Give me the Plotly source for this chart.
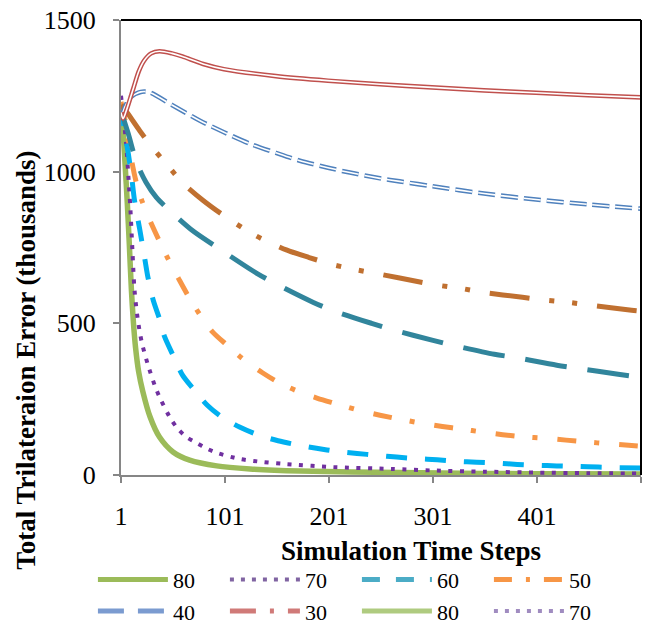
import plotly.graph_objects as go

# ---------------- data (thousands) ----------------
green80_x = [1, 3, 5, 7, 9, 11, 13, 15, 18, 22, 29, 38, 51, 67, 93, 125, 173, 269, 350, 430, 501]
green80_y = [1200, 1130, 1020, 900, 760, 610, 500, 420, 340, 275, 191, 125, 76, 49, 30, 20, 13, 8, 5, 4, 3]

purple70_x = [1, 4, 6, 8, 10, 12, 14, 17, 21, 27, 34, 39, 49, 56, 64, 74, 84, 94, 115, 137, 160, 205, 261, 300, 350, 400, 450, 501]
purple70_y = [1250, 1160, 1090, 990, 880, 740, 610, 516, 437, 362, 290, 250, 184, 151, 125, 105, 86, 72, 53, 43, 36, 26, 20, 15, 11, 8, 6, 5]

cyan60_x = [1, 5, 8, 11, 14, 19, 24, 27, 32, 38, 43, 51, 60, 70, 84, 98, 115, 133, 152, 171, 189, 209, 228, 247, 266, 286, 305, 324, 343, 363, 382, 401, 420, 440, 460, 480, 501]
cyan60_y = [1220, 1120, 1060, 990, 905, 810, 710, 650, 576, 515, 455, 395, 330, 286, 230, 191, 158, 132, 113, 99, 88, 78, 71, 65, 59, 54, 50, 45, 42, 39, 35, 32, 30, 28, 26, 24, 23]

orange50_x = [1, 6, 11, 16, 21, 30, 46, 56, 65, 76, 89, 103, 118, 137, 152, 171, 190, 209, 229, 250, 288, 310, 329, 348, 368, 387, 409, 429, 449, 469, 489, 501]
orange50_y = [1230, 1150, 1040, 960, 905, 830, 714, 650, 594, 533, 472, 428, 383, 337, 306, 276, 253, 234, 214, 197, 172, 160, 151, 142, 133, 126, 121, 115, 109, 103, 98, 95]

teal40_x = [1, 8, 16, 25, 35, 50, 70, 98, 132, 149, 186, 204, 242, 263, 301, 320, 360, 379, 420, 440, 479, 501]
teal40_y = [1200, 1125, 1030, 965, 915, 865, 805, 740, 664, 632, 569, 543, 500, 478, 444, 428, 398, 388, 362, 352, 332, 322]

brown30_x = [1, 7, 19, 31, 46, 60, 80, 100, 130, 160, 182, 204, 225, 250, 286, 307, 328, 349, 387, 410, 432, 454, 492, 501]
brown30_y = [1220, 1194, 1135, 1080, 1020, 964, 905, 855, 790, 742, 717, 694, 678, 662, 638, 625, 615, 602, 586, 576, 569, 559, 543, 540]

blue_x = [1, 5, 10, 20, 28, 50, 77, 100, 125, 150, 173, 200, 221, 250, 269, 300, 350, 400, 450, 501]
blue_y = [1175, 1215, 1245, 1263, 1262, 1220, 1168, 1130, 1092, 1062, 1036, 1013, 997, 978, 968, 952, 928, 908, 892, 878]

red_x = [1, 3, 6, 13, 18, 23, 30, 38, 50, 60, 80, 100, 150, 200, 250, 300, 350, 400, 450, 501]
red_y = [1195, 1175, 1200, 1276, 1330, 1365, 1390, 1397, 1390, 1380, 1355, 1338, 1315, 1300, 1288, 1278, 1268, 1260, 1252, 1245]

legend_names = ["80", "70", "60", "50", "40", "30", "80", "70"]

x_tickvals = [1, 101, 201, 301, 401, 501]
x_ticktext = ["1", "101", "201", "301", "401", ""]
y_tickvals = [0, 500, 1000, 1500]

FONT = "Liberation Serif, Times New Roman, serif"

fig = go.Figure()

def add_line(x, y, color, width, dash="solid", name=""):
    fig.add_trace(go.Scatter(x=x, y=y, mode="lines", name=name, showlegend=False,
                             line=dict(color=color, width=width, dash=dash,
                                       shape="spline", smoothing=0.8),
                             hoverinfo="x+y"))

# plotted series
add_line(green80_x, green80_y, "#9BBB59", 5.5, "solid", "80")
add_line(purple70_x, purple70_y, "#7030A0", 4, "4px,7.5px", "70")
add_line(cyan60_x, cyan60_y, "#00B0F0", 5, "21px,18px", "60")
add_line(orange50_x, orange50_y, "#F79646", 5, "19px,18px,5px,20px", "50")
add_line(teal40_x, teal40_y, "#31859C", 5, "42px,21px", "40")
add_line(brown30_x, brown30_y, "#C07030", 5, "40px,20px,5px,18px,5px,20px", "30")
# double (compound) lines: coloured wide line with a thin white core
add_line(blue_x, blue_y, "#4F81BD", 4.6, "17px,6px", "")
add_line(blue_x, blue_y, "white", 1.6, "17px,6px", "")
add_line(red_x, red_y, "#C0504D", 4.6, "solid", "")
add_line(red_x, red_y, "white", 1.6, "solid", "")

# legend entries (styled as in the reference legend)
legend_styles = [
    ("#9BBB59", 5, "solid"),
    ("#8064A2", 4, "4px,7px"),
    ("#4BACC6", 5, "18px,16px"),
    ("#F79646", 5, "18px,14px,4px,14px"),
    ("#7B9BD0", 5, "26px,14px"),
    ("#D07A78", 5, "26px,14px,4px,14px"),
    ("#AFCB80", 5, "solid"),
    ("#A08CC0", 4, "4px,7px"),
]
for nm, (c, w, d) in zip(legend_names, legend_styles):
    fig.add_trace(go.Scatter(x=[None], y=[None], mode="lines", name=nm,
                             line=dict(color=c, width=w, dash=d), hoverinfo="skip"))

fig.update_layout(
    width=648, height=624,
    margin=dict(l=121, r=7, t=20, b=149, autoexpand=False),
    plot_bgcolor="white", paper_bgcolor="white",
    font=dict(family=FONT, color="black"),
    showlegend=True,
    legend=dict(orientation="h", x=-0.054, y=-0.184, xanchor="left", yanchor="top",
                font=dict(family=FONT, size=22, color="black"),
                entrywidth=47, entrywidthmode="pixels", itemwidth=70,
                bgcolor="rgba(0,0,0,0)"),
    xaxis=dict(range=[1, 501], tickmode="array", tickvals=x_tickvals, ticktext=x_ticktext,
               showgrid=False, zeroline=False, showline=True, linecolor="#868686", linewidth=2,
               ticks="outside", ticklen=6, tickcolor="#868686", tickwidth=2, automargin=False,
               ticklabeloverflow="allow",
               tickfont=dict(family=FONT, size=26, color="black"), ticklabelstandoff=11),
    yaxis=dict(range=[0, 1500], tickmode="array", tickvals=y_tickvals,
               showgrid=False, zeroline=False, showline=True, linecolor="#868686", linewidth=2,
               ticks="outside", ticklen=6, tickcolor="#868686", tickwidth=2, automargin=False,
               ticklabeloverflow="allow",
               tickfont=dict(family=FONT, size=26, color="black"), ticklabelstandoff=12),
    shapes=[
        dict(type="line", xref="x domain", yref="y domain", x0=0, x1=1, y0=1, y1=1,
             line=dict(color="black", width=2)),
        dict(type="line", xref="x domain", yref="y domain", x0=1, x1=1, y0=0, y1=1,
             line=dict(color="black", width=2)),
    ],
    annotations=[
        dict(text="<b>Simulation Time Steps</b>", xref="paper", yref="paper",
             x=0.5577, y=-0.167, xanchor="center", yanchor="middle", showarrow=False,
             font=dict(family=FONT, size=27, color="black")),
        dict(text="<b>Total Trilateraion Error (thousands)</b>", xref="paper", yref="paper",
             x=-0.183, y=0.2527, xanchor="center", yanchor="middle", showarrow=False,
             textangle=-90, font=dict(family=FONT, size=27, color="black")),
    ],
)

# remove the browser's default 8px body margin so the figure fills the window exactly
fig.write_html("out.html",
               config={"displayModeBar": False},
               post_script="document.body.style.margin='0';document.body.style.overflow='hidden';")
